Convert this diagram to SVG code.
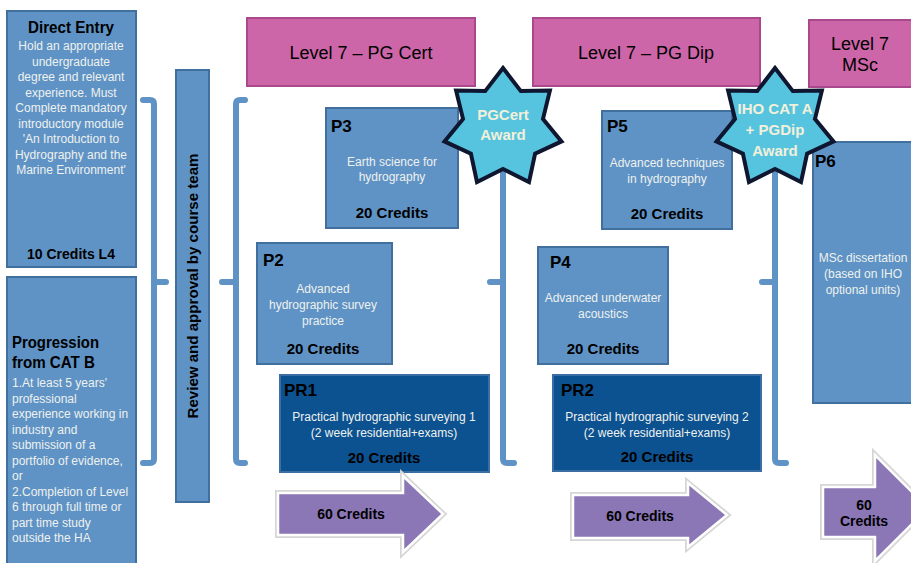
<svg xmlns="http://www.w3.org/2000/svg" xmlns:xlink="http://www.w3.org/1999/xlink" width="911" height="563" viewBox="0 0 911 563">
<defs>
<style>
text{font-family:"Liberation Sans",Arial,sans-serif;}
.box{fill:#5f93c5;stroke:#41709f;stroke-width:2;}
.dark{fill:#0c5190;stroke:#3b6ea3;stroke-width:2;}
.lvl{fill:#cd66a8;stroke:#a9488c;stroke-width:2;}
.ttl{font-weight:bold;font-size:16px;fill:#000;}
.lab{font-weight:bold;font-size:17px;fill:#000;}
.body{font-size:12px;fill:#eef1ee;}
.cr{font-weight:bold;font-size:15px;fill:#000;text-anchor:middle;}
.lvt{font-size:18px;fill:#000;text-anchor:middle;}
.mid{text-anchor:middle;}
.brk{fill:none;stroke:#5f93c5;stroke-width:6;stroke-linecap:round;stroke-linejoin:round;}
.star{fill:#56c4df;stroke:#0e1630;stroke-width:4;stroke-linejoin:miter;}
.stt{font-weight:bold;font-size:15px;fill:#f2f0da;text-anchor:middle;}
.arr{fill:#8b76b6;stroke:#ffffff;stroke-width:2.5;}
.glow{fill:none;stroke:#d6d6d6;stroke-width:6;stroke-linejoin:miter;}
.at{font-weight:bold;font-size:14px;fill:#000;text-anchor:middle;}
</style>
<polygon id="starShape" points="0,-60 17.8,-36.9 46.9,-37.4 40,-9.1 58.5,13.4 32.1,25.6 26,54.1 0,41 -26,54.1 -32.1,25.6 -58.5,13.4 -40,-9.1 -46.9,-37.4 -17.8,-36.9"/>
</defs>
<rect width="911" height="563" fill="#ffffff"/>

<g id="direct-entry">
<rect class="box" x="7" y="11" width="129" height="256"/>
<text class="ttl mid" x="71" y="33" textLength="86" lengthAdjust="spacingAndGlyphs">Direct Entry</text>
<text class="body mid" x="71"><tspan x="71" y="50">Hold an appropriate</tspan><tspan x="71" y="65.5">undergraduate</tspan><tspan x="71" y="81">degree and relevant</tspan><tspan x="71" y="96.5">experience.  Must</tspan><tspan x="71" y="112">Complete mandatory</tspan><tspan x="71" y="127.5">introductory module</tspan><tspan x="71" y="143">'An Introduction to</tspan><tspan x="71" y="158.5">Hydrography and the</tspan><tspan x="71" y="174">Marine Environment'</tspan></text>
<text class="cr" x="71" y="259" style="font-size:14px">10 Credits L4</text>
</g>

<g id="progression">
<rect class="box" x="7" y="277" width="129" height="300"/>
<text class="ttl" x="12" y="348" textLength="87" lengthAdjust="spacingAndGlyphs">Progression</text>
<text class="ttl" x="12" y="368" textLength="83" lengthAdjust="spacingAndGlyphs">from CAT B</text>
<text class="body"><tspan x="12" y="387">1.At least 5 years'</tspan><tspan x="12" y="402.5">professional</tspan><tspan x="12" y="418">experience working in</tspan><tspan x="12" y="433.5">industry and</tspan><tspan x="12" y="449">submission of a</tspan><tspan x="12" y="464.5">portfolio of evidence,</tspan><tspan x="12" y="480">or</tspan><tspan x="12" y="495.5">2.Completion of Level</tspan><tspan x="12" y="511">6 through full time or</tspan><tspan x="12" y="526.5">part time study</tspan><tspan x="12" y="542">outside the HA</tspan></text>
</g>

<g id="review">
<rect class="box" x="176" y="70" width="33" height="432"/>
<text transform="translate(198,286) rotate(-90)" class="mid" style="font-weight:bold;font-size:15px" textLength="265" lengthAdjust="spacingAndGlyphs">Review and approval  by course team</text>
</g>

<g id="level-pgcert">
<rect class="lvl" x="247" y="18" width="228" height="68"/>
<text class="lvt" x="361" y="59">Level 7 – PG Cert</text>
</g>
<g id="level-pgdip">
<rect class="lvl" x="533" y="18" width="227" height="68"/>
<text class="lvt" x="646" y="59">Level 7 – PG Dip</text>
</g>
<g id="level-msc">
<rect class="lvl" x="809" y="20" width="110" height="67"/>
<text class="lvt" x="860" y="50">Level 7</text>
<text class="lvt" x="860" y="71">MSc</text>
</g>

<g id="connectors">
<path class="brk" d="M143,100 L150,100 Q154,100 154,104 L154,459 Q154,463 150,463 L143,463 M154,282 L166,282"/>
<path class="brk" d="M245,100 L240,100 Q236,100 236,104 L236,459 Q236,463 240,463 L245,463 M236,282 L222,282"/>
<path class="brk" d="M514,100 L507,100 Q503,100 503,104 L503,459 Q503,463 507,463 L514,463 M503,282 L490,282"/>
<path class="brk" d="M786,100 L779,100 Q775,100 775,104 L775,459 Q775,463 779,463 L786,463 M775,282 L762,282"/>
</g>

<g id="p3">
<rect class="box" x="326" y="108" width="132" height="120"/>
<text class="lab" x="331" y="132">P3</text>
<text class="body mid"><tspan x="392" y="166">Earth science for</tspan><tspan x="392" y="181">hydrography</tspan></text>
<text class="cr" x="392" y="218">20 Credits</text>
</g>

<g id="p2">
<rect class="box" x="257" y="243" width="135" height="121"/>
<text class="lab" x="263" y="266">P2</text>
<text class="body mid"><tspan x="323" y="293">Advanced</tspan><tspan x="323" y="309">hydrographic survey</tspan><tspan x="323" y="325">practice</tspan></text>
<text class="cr" x="323" y="354">20 Credits</text>
</g>

<g id="pr1">
<rect class="dark" x="280" y="375" width="209" height="97"/>
<text class="lab" x="284" y="396">PR1</text>
<text class="body mid"><tspan x="384" y="421">Practical hydrographic surveying 1</tspan><tspan x="384" y="437">(2 week residential+exams)</tspan></text>
<text class="cr" x="384" y="463">20 Credits</text>
</g>

<g id="p5">
<rect class="box" x="602" y="111" width="130" height="118"/>
<text class="lab" x="607" y="132">P5</text>
<text class="body mid"><tspan x="667" y="167">Advanced techniques</tspan><tspan x="667" y="183">in hydrography</tspan></text>
<text class="cr" x="667" y="219">20 Credits</text>
</g>

<g id="p4">
<rect class="box" x="538" y="247" width="130" height="117"/>
<text class="lab" x="550" y="268">P4</text>
<text class="body mid"><tspan x="603" y="302">Advanced underwater</tspan><tspan x="603" y="318">acoustics</tspan></text>
<text class="cr" x="603" y="354">20 Credits</text>
</g>

<g id="pr2">
<rect class="dark" x="553" y="375" width="208" height="96"/>
<text class="lab" x="561" y="396">PR2</text>
<text class="body mid"><tspan x="657" y="421">Practical hydrographic surveying 2</tspan><tspan x="657" y="437">(2 week residential+exams)</tspan></text>
<text class="cr" x="657" y="462">20 Credits</text>
</g>

<g id="p6">
<rect class="box" x="813" y="142" width="110" height="261"/>
<text class="lab" x="815" y="167">P6</text>
<text class="body mid"><tspan x="863" y="262">MSc dissertation</tspan><tspan x="863" y="278">(based on IHO</tspan><tspan x="863" y="294">optional units)</tspan></text>
</g>

<g id="pgcert-award">
<use xlink:href="#starShape" class="star" transform="translate(503,128)"/>
<text class="stt" x="503" y="120">PGCert</text>
<text class="stt" x="503" y="140">Award</text>
</g>

<g id="iho-award">
<use xlink:href="#starShape" class="star" transform="translate(775,128)"/>
<text class="stt" x="775" y="114">IHO CAT A</text>
<text class="stt" x="775" y="135">+ PGDip</text>
<text class="stt" x="775" y="156">Award</text>
</g>

<g id="arrow1">
<path class="glow" d="M278,493 L403,493 L403,476 L443,514 L403,552 L403,535 L278,535 Z"/>
<path class="arr" d="M278,493 L403,493 L403,476 L443,514 L403,552 L403,535 L278,535 Z"/>
<text class="at" x="351" y="519">60 Credits</text>
</g>
<g id="arrow2">
<path class="glow" d="M573,495 L688,495 L688,483 L727,515 L688,547 L688,538 L573,538 Z"/>
<path class="arr" d="M573,495 L688,495 L688,483 L727,515 L688,547 L688,538 L573,538 Z"/>
<text class="at" x="640" y="521">60 Credits</text>
</g>
<g id="arrow3">
<path class="glow" d="M823,487 L875,487 L875,455 L928,508 L875,561 L875,537 L823,537 Z"/>
<path class="arr" d="M823,487 L875,487 L875,455 L928,508 L875,561 L875,537 L823,537 Z"/>
<text class="at" x="864" y="510">60</text>
<text class="at" x="864" y="526">Credits</text>
</g>
</svg>
